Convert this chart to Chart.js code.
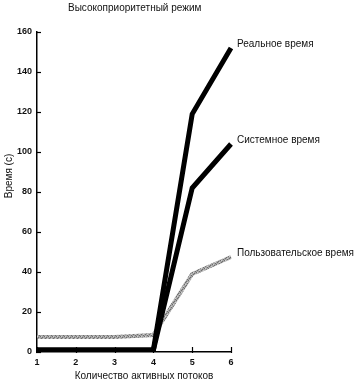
<!DOCTYPE html>
<html>
<head>
<meta charset="utf-8">
<script src="https://cdn.jsdelivr.net/npm/chart.js"></script>
<style>
  html, body { margin: 0; padding: 0; background: #fff; }
  #wrap { width: 358px; height: 382px; position: relative; }
</style>
</head>
<body>
<div id="wrap"><canvas id="c"></canvas></div>
<script>
// Данные
const threads = ['1', '2', '3', '4', '5', '6'];
const realTime = [1, 1, 1, 1, 119, 152];
const systemTime = [1, 1, 1, 1, 82, 104];
const userTime = [7.5, 7.5, 7.5, 8.5, 39, 47.5];
const yTicks = [0, 20, 40, 60, 80, 100, 120, 140, 160];

const seriesNames = ['Реальное время', 'Системное время', 'Пользовательское время'];
const FONT = '"Liberation Sans", Arial, sans-serif';

// серая "зернистая" заливка для пользовательского времени
function grainPattern() {
  const c = document.createElement('canvas');
  c.width = 4; c.height = 4;
  const g = c.getContext('2d');
  g.fillStyle = '#a6a6a6'; g.fillRect(0, 0, 4, 4);
  g.fillStyle = '#6e6e6e';
  g.fillRect(0, 0, 1, 1); g.fillRect(2, 1, 1, 1); g.fillRect(1, 2, 1, 1); g.fillRect(3, 3, 1, 1);
  g.fillStyle = '#cfcfcf';
  g.fillRect(1, 0, 1, 1); g.fillRect(3, 2, 1, 1);
  return g.createPattern(c, 'repeat');
}

// подписи, засечки внутрь, заголовки
const extras = {
  id: 'extras',
  afterDraw(chart) {
    const { ctx, scales: { x, y } } = chart;
    ctx.save();
    ctx.strokeStyle = '#000';
    ctx.lineWidth = 1.2;
    // засечки оси Y (вправо)
    yTicks.forEach(v => {
      const py = Math.round(y.getPixelForValue(v)) + 0.5;
      ctx.beginPath(); ctx.moveTo(x.left - 1, py); ctx.lineTo(x.left + 4, py); ctx.stroke();
    });
    // засечки оси X (вверх)
    threads.forEach((t, i) => {
      const px = Math.round(x.getPixelForValue(i)) + 0.5;
      ctx.beginPath(); ctx.moveTo(px, y.bottom + 1); ctx.lineTo(px, y.bottom - 5); ctx.stroke();
    });

    ctx.fillStyle = '#111';
    ctx.font = '10px ' + FONT;
    ctx.textBaseline = 'middle';
    ctx.textAlign = 'left';
    ctx.fillText('Высокоприоритетный режим', 68, 8);

    // подписи линий у последних точек
    chart.data.datasets.forEach((ds, i) => {
      const last = ds.data.length - 1;
      const px = x.getPixelForValue(last);
      const py = y.getPixelForValue(ds.data[last]);
      ctx.fillText(seriesNames[i], px + 6, py - 4);
    });

    // подпись оси X
    ctx.textAlign = 'center';
    ctx.fillText('Количество активных потоков', 144, 376);

    // подпись оси Y
    ctx.save();
    ctx.translate(9, 176);
    ctx.rotate(-Math.PI / 2);
    ctx.textAlign = 'center';
    ctx.fillText('Время (с)', 0, 0);
    ctx.restore();
    ctx.restore();
  }
};

new Chart(document.getElementById('c'), {
  type: 'line',
  data: {
    labels: threads,
    datasets: [
      { label: seriesNames[0], data: realTime, borderColor: '#000', borderWidth: 5 },
      { label: seriesNames[1], data: systemTime, borderColor: '#000', borderWidth: 5 },
      { label: seriesNames[2], data: userTime, borderColor: grainPattern(), borderWidth: 4 }
    ]
  },
  options: {
    responsive: true,
    maintainAspectRatio: false,
    animation: false,
    events: [],
    layout: { padding: { left: 0, right: 127, top: 32, bottom: 0 } },
    elements: {
      point: { radius: 0 },
      line: { tension: 0, fill: false, borderCapStyle: 'butt', borderJoinStyle: 'miter' }
    },
    plugins: { legend: { display: false }, title: { display: false }, tooltip: { enabled: false } },
    scales: {
      x: {
        type: 'category',
        offset: false,
        border: { display: true, color: '#000', width: 1.5 },
        grid: { display: false, drawOnChartArea: false, drawTicks: false },
        ticks: { color: '#111', font: { family: FONT, size: 9, weight: 'bold' }, padding: 5, maxRotation: 0, autoSkip: false },
        afterFit: s => { s.height = 30; }
      },
      y: {
        min: 0, max: 160,
        border: { display: true, color: '#000', width: 1.5 },
        grid: { display: false, drawOnChartArea: false, drawTicks: false },
        ticks: { stepSize: 20, color: '#111', font: { family: FONT, size: 9, weight: 'bold' }, padding: 5 },
        afterFit: s => { s.width = 37; }
      }
    }
  },
  plugins: [extras]
});
</script>
</body>
</html>
